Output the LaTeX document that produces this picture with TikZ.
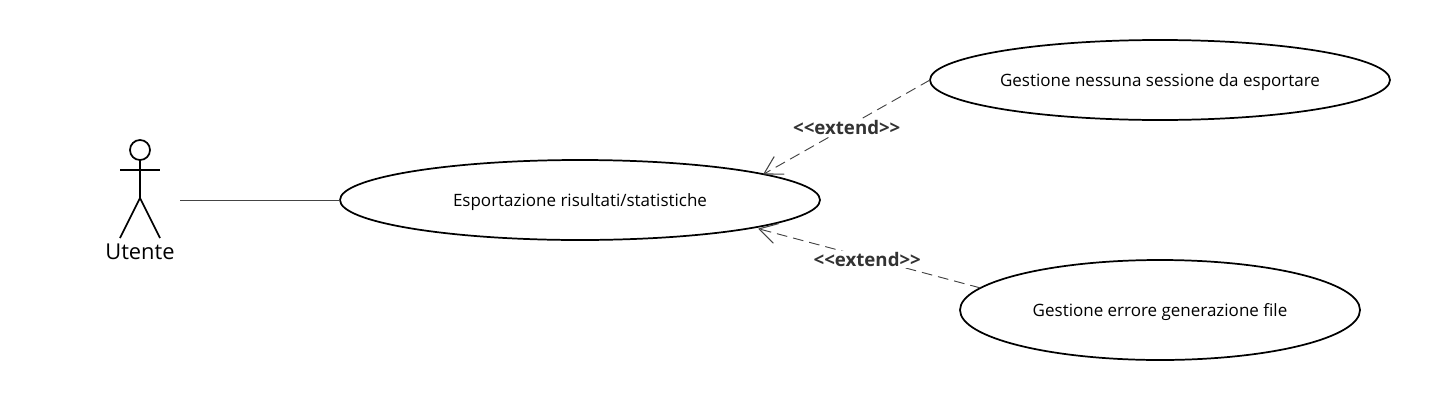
\documentclass[tikz,border=0pt]{standalone}
\usepackage{fontspec}
\setmainfont{Open Sans}
\usetikzlibrary{shapes.geometric,arrows.meta}
\definecolor{linkgray}{HTML}{444444}
\tikzset{
  usecase/.style={draw,ellipse,line width=1.3pt,inner sep=0pt,outer sep=0pt,text height=11.5pt,text depth=2.5pt,font=\fontsize{12.75}{15}\selectfont},
  stick/.style={line width=1.3pt},
  extendlink/.style={draw=linkgray,line width=0.7pt,dash pattern=on 8pt off 4.5pt,
    -{Straight Barb[length=13pt,width=15pt,line width=0.8pt,round]}},
  extendlabel/.style={fill=white,inner sep=1pt,text=black!80,font=\fontsize{14}{16}\selectfont\bfseries}
}
\begin{document}
\begin{tikzpicture}[x=0.75pt,y=-0.75pt]
\useasboundingbox (0,0) rectangle (1430,400);
\node[usecase,minimum width=360pt,minimum height=60pt] (export) at (580,200) {Esportazione risultati/statistiche};
\node[usecase,minimum width=345pt,minimum height=60pt] (empty) at (1160,80) {Gestione nessuna sessione da esportare};
\node[usecase,minimum width=300pt,minimum height=75pt] (fail) at (1160,310) {Gestione errore generazione file};
\node[stick,circle,draw,minimum size=15pt,inner sep=0pt,outer sep=0pt] (head) at (140,150) {};
\coordinate (hip) at (140,198);
\coordinate (armL) at (120,170);
\coordinate (armR) at (160,170);
\coordinate (footL) at (120,238);
\coordinate (footR) at (160,238);
\coordinate (port) at (180,200);
\node[font=\fontsize{16.4}{19}\selectfont,inner sep=0pt] (actor) at (140,252) {Utente};
\draw[stick] (head) -- (hip);
\draw[stick] (armL) -- (armR);
\draw[stick] (footL) -- (hip) -- (footR);
\draw[linkgray,line width=0.7pt] (port) -- (export);
\draw[extendlink] (empty.west) -- node[extendlabel] {{<}{<}extend{>}{>}} (export.8.4);
\draw[extendlink,shorten >=3.5pt] (fail.173.8) -- node[extendlabel,yshift=-1.5pt] {{<}{<}extend{>}{>}} (export.-9);
\end{tikzpicture}
\end{document}
